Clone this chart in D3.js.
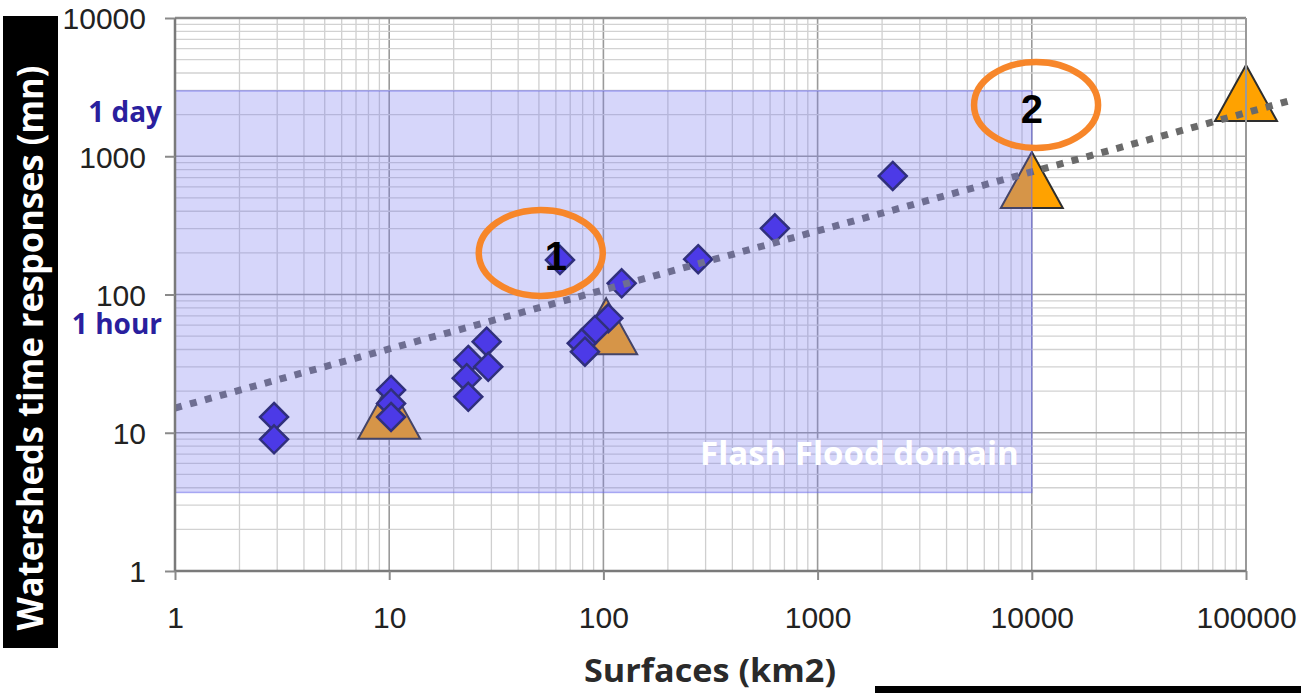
<!DOCTYPE html>
<html>
<head>
<meta charset="utf-8">
<script src="https://cdn.jsdelivr.net/npm/d3@7"></script>
<style>
  html, body { margin: 0; padding: 0; background: #fff; }
  svg { display: block; }
</style>
</head>
<body>
<svg id="chart" width="1301" height="693"></svg>
<script>
// ---------------- data ----------------
const xTicks = [1, 10, 100, 1000, 10000, 100000];
const xTickLabels = ["1", "10", "100", "1000", "10000", "100000"];
const yTicks = [1, 10, 100, 1000, 10000];
const yTickLabels = ["1", "10", "100", "1000", "10000"];

// observed watersheds (diamonds)
const diamondX = [2.9, 2.9, 10.2, 10.2, 10.2, 23.4, 28.5, 29, 23, 23.4, 62.7, 121.7, 105.4, 91.4, 79.2, 82, 277, 632, 2243];
const diamondY = [13.0, 8.97, 20.4, 16.3, 13.0, 33.6, 45.6, 30.0, 24.8, 18.2, 178, 120.5, 67.3, 55.4, 44.4, 38.6, 180, 301, 720];

// triangles
const triX = [10, 103, 10000, 100000];
const triY = [14.4, 59, 673, 2866];

// trend (power-law fit) end points
const trendX = [1, 160000];
const trendY = [15.1, 2520];

// flash flood domain box
const domainX = [1, 10000];
const domainY = [3.7, 2970];

// reference time marks
const timeMarkLabels = ["1 day", "1 hour"];

// annotations
const annText = ["1", "2"];
const annX = [60, 10000];
const annY = [190, 2200];
const ellipseX = [51, 10470];
const ellipseY = [200, 2350];

// ---------------- layout ----------------
const svg = d3.select("#chart");
const L = 175, R = 1246, T = 18, B = 571;
const x = d3.scaleLog().domain([1, 100000]).range([L, R]);
const y = d3.scaleLog().domain([1, 10000]).range([B, T]);

// grid values
const gridX = [], gridY = [];
for (let d = 1; d < 100000; d *= 10) for (let k = 1; k < 10; k++) gridX.push({v: d * k, major: k === 1});
gridX.push({v: 100000, major: true});
for (let d = 1; d < 10000; d *= 10) for (let k = 1; k < 10; k++) gridY.push({v: d * k, major: k === 1});
gridY.push({v: 10000, major: true});

const plot = svg.append("g");
plot.selectAll("line.gx").data(gridX).join("line")
  .attr("x1", d => x(d.v)).attr("x2", d => x(d.v)).attr("y1", T).attr("y2", B)
  .attr("stroke", d => d.major ? "#9a9a9a" : "#cfcfcf").attr("stroke-width", d => d.major ? 1.6 : 1.3);
plot.selectAll("line.gy").data(gridY).join("line")
  .attr("y1", d => y(d.v)).attr("y2", d => y(d.v)).attr("x1", L).attr("x2", R)
  .attr("stroke", d => d.major ? "#9a9a9a" : "#d2d2d2").attr("stroke-width", d => d.major ? 1.6 : 1.3);

// triangles
const triW = 62, triH = 56;
plot.selectAll("path.tri").data(triX.map((v, i) => [v, triY[i]])).join("path")
  .attr("d", d => {
    const cx = x(d[0]), cy = y(d[1]);
    return `M${cx},${cy - triH / 2}L${cx + triW / 2},${cy + triH / 2}L${cx - triW / 2},${cy + triH / 2}Z`;
  })
  .attr("fill", "#ffa200").attr("stroke", "#2e2e2e").attr("stroke-width", 2).attr("stroke-linejoin", "miter");

// diamonds
const dr = 14;
plot.selectAll("path.dia").data(diamondX.map((v, i) => [v, diamondY[i]])).join("path")
  .attr("d", d => {
    const cx = x(d[0]), cy = y(d[1]);
    return `M${cx},${cy - dr}L${cx + dr},${cy}L${cx},${cy + dr}L${cx - dr},${cy}Z`;
  })
  .attr("fill", "#3a20e4").attr("stroke", "#12124a").attr("stroke-width", 2.5);

// trend line
plot.append("line")
  .attr("x1", x(trendX[0])).attr("y1", y(trendY[0]))
  .attr("x2", x(trendX[1])).attr("y2", y(trendY[1]))
  .attr("stroke", "#6a6a6a").attr("stroke-width", 7).attr("stroke-dasharray", "7,8.5");

// flash-flood domain box (semi transparent over everything)
plot.append("rect")
  .attr("x", x(domainX[0])).attr("y", y(domainY[1]))
  .attr("width", x(domainX[1]) - x(domainX[0]))
  .attr("height", y(domainY[0]) - y(domainY[1]))
  .attr("fill", "rgb(120,120,240)").attr("fill-opacity", 0.3)
  .attr("stroke", "rgb(110,110,235)").attr("stroke-opacity", 0.55).attr("stroke-width", 1.5);

// frame
svg.append("line").attr("x1", L).attr("x2", R).attr("y1", T).attr("y2", T).attr("stroke", "#8a8a8a").attr("stroke-width", 2.5);
svg.append("line").attr("x1", R).attr("x2", R).attr("y1", T).attr("y2", B).attr("stroke", "#9a9a9a").attr("stroke-width", 2);

// axes
const xAxis = d3.axisBottom(x).tickValues(xTicks).tickFormat((d, i) => xTickLabels[i]).tickSize(9).tickPadding(0);
const gx = svg.append("g").attr("transform", `translate(0,${B})`).call(xAxis);
gx.select(".domain").attr("stroke", "#7a7a7a").attr("stroke-width", 2.5).attr("d", `M${L},0H${R}`);
gx.selectAll(".tick line").attr("stroke", "#8a8a8a").attr("stroke-width", 2);
gx.selectAll(".tick text").attr("y", 57).attr("dy", null)
  .attr("font-family", "'Liberation Sans', Arial, sans-serif").attr("font-size", 30).attr("fill", "#222");

const yAxis = d3.axisLeft(y).tickValues(yTicks).tickFormat((d, i) => yTickLabels[i]).tickSize(10).tickPadding(0);
const gy = svg.append("g").attr("transform", `translate(${L},0)`).call(yAxis);
gy.select(".domain").attr("stroke", "#7a7a7a").attr("stroke-width", 2.5).attr("d", `M0,${T}V${B}`);
gy.selectAll(".tick line").attr("stroke", "#8a8a8a").attr("stroke-width", 2);
gy.selectAll(".tick text").attr("x", -29).attr("dy", "0.36em")
  .attr("font-family", "'Liberation Sans', Arial, sans-serif").attr("font-size", 30).attr("fill", "#222");

// 1 day / 1 hour marks
svg.selectAll("text.mark").data(timeMarkLabels).join("text")
  .attr("x", 162).attr("y", (d, i) => i === 0 ? 122 : 334)
  .attr("text-anchor", "end")
  .attr("font-family", "'Open Sans', sans-serif").attr("font-weight", "bold").attr("font-size", 28)
  .attr("fill", "#2a1f9e").text(d => d);

// flash flood label
svg.append("text")
  .attr("x", x(domainX[1]) - 13).attr("y", 465)
  .attr("text-anchor", "end")
  .attr("font-family", "'Open Sans', sans-serif").attr("font-weight", "bold").attr("font-size", 33)
  .attr("fill", "#ffffff").text("Flash Flood domain");

// ellipses + numbers
svg.selectAll("ellipse.ann").data(ellipseX.map((v, i) => [v, ellipseY[i]])).join("ellipse")
  .attr("cx", d => x(d[0])).attr("cy", d => y(d[1])).attr("rx", 62).attr("ry", 43)
  .attr("fill", "none").attr("stroke", "#f7862a").attr("stroke-width", 6.5);
svg.selectAll("text.ann").data(annText).join("text")
  .attr("x", (d, i) => x(annX[i])).attr("y", (d, i) => y(annY[i]))
  .attr("dy", "0.36em").attr("text-anchor", "middle")
  .attr("font-family", "'Liberation Sans', Arial, sans-serif").attr("font-weight", "bold").attr("font-size", 40)
  .attr("fill", "#000").text(d => d);

// y title on black band
svg.append("rect").attr("x", 3).attr("y", 16).attr("width", 55).attr("height", 632).attr("fill", "#000");
svg.append("text")
  .attr("transform", "translate(31,348) rotate(-90)")
  .attr("text-anchor", "middle").attr("dy", "0.35em")
  .attr("font-family", "'Open Sans', sans-serif").attr("font-weight", "bold").attr("font-size", 35)
  .attr("textLength", 565).attr("lengthAdjust", "spacingAndGlyphs")
  .attr("fill", "#fff").text("Watersheds time responses (mn)");

// x title
svg.append("text")
  .attr("x", 710).attr("y", 682).attr("text-anchor", "middle")
  .attr("font-family", "'Open Sans', sans-serif").attr("font-weight", "bold").attr("font-size", 33)
  .attr("textLength", 252).attr("lengthAdjust", "spacingAndGlyphs")
  .attr("fill", "#2a2a2a").text("Surfaces (km2)");

// black bar bottom right
svg.append("rect").attr("x", 875).attr("y", 686).attr("width", 426).attr("height", 7).attr("fill", "#000");
</script>
</body>
</html>
